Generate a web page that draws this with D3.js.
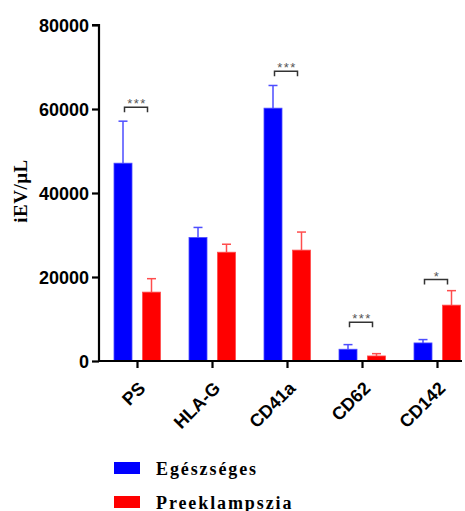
<!DOCTYPE html>
<html>
<head>
<meta charset="utf-8">
<script src="https://cdn.jsdelivr.net/npm/d3@7"></script>
<style>
  html, body { margin: 0; padding: 0; background: #fff; }
  svg { display: block; }
</style>
</head>
<body>
<svg id="chart" width="465" height="511"></svg>
<script>
// Marker categories and group names
const categories = ["PS", "HLA-G", "CD41a", "CD62", "CD142"];
const groups = ["Egészséges", "Preeklampszia"];

// Mean iEV/µL per marker, and the upper error (mean + SD)
const healthyMean = [47100, 29400, 60200, 2800, 4300];
const healthyErr  = [57100, 31800, 65600, 3900, 5100];
const preMean     = [16400, 25900, 26400, 1200, 13300];
const preErr      = [19600, 27800, 30700, 1750, 16750];

// Significance annotations: marker, bracket level, label
const sigMarker = ["PS", "CD41a", "CD62", "CD142"];
const sigLevel  = [60400, 69000, 9200, 19400];
const sigLabel  = ["***", "***", "***", "*"];

const yTicks = [0, 20000, 40000, 60000, 80000];

const colors = ["#0000ff", "#ff0000"];
const errColors = ["#4d4dff", "#ff4d4d"];

const svg = d3.select("#chart");
const plotLeft = 99, plotRight = 462, plotTop = 25, plotBottom = 361;

const x = d3.scalePoint().domain(categories).range([137, 437]);
const y = d3.scaleLinear().domain([0, 80000]).range([plotBottom, plotTop]);

const barW = 18;
const offs = [-14, 14.5];

const series = [
  { means: healthyMean, errs: healthyErr },
  { means: preMean, errs: preErr }
];

// bars with error bars (upper only)
series.forEach((s, gi) => {
  const g = svg.append("g");
  categories.forEach((c, i) => {
    const cx = x(c) + offs[gi];
    g.append("line")
      .attr("x1", cx).attr("x2", cx)
      .attr("y1", y(s.means[i])).attr("y2", y(s.errs[i]))
      .attr("stroke", errColors[gi]).attr("stroke-width", 1.5);
    g.append("line")
      .attr("x1", cx - 4.5).attr("x2", cx + 4.5)
      .attr("y1", y(s.errs[i])).attr("y2", y(s.errs[i]))
      .attr("stroke", errColors[gi]).attr("stroke-width", 1.5);
    g.append("rect")
      .attr("x", cx - barW / 2).attr("width", barW)
      .attr("y", y(s.means[i])).attr("height", y(0) - y(s.means[i]))
      .attr("fill", colors[gi])
      .attr("stroke", errColors[gi]).attr("stroke-width", 0.8);
  });
});

// y axis
const yAxis = svg.append("g")
  .attr("transform", `translate(${plotLeft},0)`)
  .call(d3.axisLeft(y).tickValues(yTicks).tickFormat(d3.format("d")).tickSize(7).tickPadding(3));
yAxis.select(".domain").attr("stroke", "#000").attr("stroke-width", 2.2)
  .attr("d", `M-7,${plotTop}H0V${plotBottom}`);
yAxis.selectAll(".tick line").attr("stroke", "#000").attr("stroke-width", 2.2);
yAxis.selectAll(".tick text")
  .attr("fill", "#000")
  .style("font-family", "'Liberation Sans', Arial, sans-serif")
  .style("font-weight", "bold")
  .style("font-size", "18px")
  .attr("dy", "0.36em");

// x axis
const xAxis = svg.append("g")
  .attr("transform", `translate(0,${plotBottom})`)
  .call(d3.axisBottom(x).tickSize(7).tickSizeOuter(0).tickFormat(""));
xAxis.select(".domain").attr("stroke", "#000").attr("stroke-width", 2.2)
  .attr("d", `M${plotLeft - 1},0H${plotRight}`);
xAxis.selectAll(".tick line").attr("stroke", "#000").attr("stroke-width", 2.2);

// rotated category labels
svg.append("g").selectAll("text")
  .data(categories)
  .join("text")
  .attr("transform", d => `translate(${x(d) + 5},${plotBottom + 24}) rotate(-45)`)
  .attr("text-anchor", "end")
  .attr("dy", "0.35em")
  .style("font-family", "'Liberation Sans', Arial, sans-serif")
  .style("font-weight", "bold")
  .style("font-size", "18px")
  .attr("fill", "#000")
  .text(d => d);

// y axis title
svg.append("text")
  .attr("transform", "translate(27,191) rotate(-90)")
  .attr("text-anchor", "middle")
  .style("font-family", "'Liberation Serif', 'Times New Roman', serif")
  .style("font-weight", "bold")
  .style("font-size", "19px")
  .style("letter-spacing", "0.5px")
  .attr("fill", "#000")
  .text("iEV/µL");

// significance brackets
const sig = svg.append("g");
sigMarker.forEach((m, i) => {
  const cx = x(m) - 1;
  const x0 = cx - 11.5, x1 = cx + 11.5;
  const yy = y(sigLevel[i]);
  sig.append("path")
    .attr("d", `M${x0},${yy + 5}V${yy}H${x1}V${yy + 5}`)
    .attr("fill", "none").attr("stroke", "#333").attr("stroke-width", 1.5);
  sig.append("text")
    .attr("x", cx + 1).attr("y", yy + 1)
    .attr("text-anchor", "middle")
    .style("font-family", "'Liberation Sans', Arial, sans-serif")
    .style("font-size", "13px")
    .style("letter-spacing", "1.5px")
    .attr("fill", "#555")
    .text(sigLabel[i]);
});

// legend
const legend = svg.append("g");
groups.forEach((gname, i) => {
  const ly = 462 + i * 34;
  legend.append("rect")
    .attr("x", 114).attr("y", ly).attr("width", 26).attr("height", 12)
    .attr("fill", colors[i]);
  legend.append("text")
    .attr("x", 156).attr("y", ly + 13)
    .style("font-family", "'Liberation Serif', 'Times New Roman', serif")
    .style("font-weight", "bold")
    .style("font-size", "18px")
    .style("letter-spacing", "1.9px")
    .attr("fill", "#000")
    .text(gname);
});
</script>
</body>
</html>
